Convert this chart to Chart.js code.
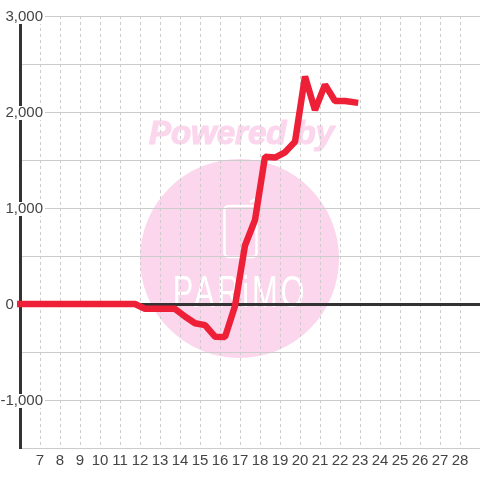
<!DOCTYPE html>
<html>
<head>
<meta charset="utf-8">
<style>
  html, body { margin: 0; padding: 0; background: #fff; }
  #wrap { width: 480px; height: 480px; }
</style>
<script src="https://cdn.jsdelivr.net/npm/chart.js@4"></script>
</head>
<body>
<div id="wrap"><canvas id="chart" width="480" height="480"></canvas></div>
<script>
const dayValues = [5.75, 6.25, 6.75, 7.25, 7.75, 8.25, 8.75, 9.25, 9.75, 10.25, 10.75, 11.25, 11.75,
  12.25, 12.75, 13.25, 13.75, 14.25, 14.75, 15.25, 15.75, 16.25, 16.75, 17.25, 17.75,
  18.25, 18.75, 19.25, 19.75, 20.25, 20.75, 21.25, 21.75, 22.25, 22.75];
const seriesValues = [0, 0, 0, 0, 0, 0, 0, 0, 0, 0, 0, 0, 0,
  -50, -50, -50, -50, -130, -200, -220, -340, -345, -20, 610, 875,
  1535, 1525, 1580, 1690, 2370, 2020, 2285, 2115, 2115, 2100];
const xTickLabels = [7, 8, 9, 10, 11, 12, 13, 14, 15, 16, 17, 18, 19, 20, 21, 22, 23, 24, 25, 26, 27, 28];
const yTickLabels = [-1000, 0, 1000, 2000, 3000];

// watermark sits under the grid
const watermark = {
  id: "watermark",
  beforeDraw(chart) {
    const ctx = chart.ctx;
    ctx.save();
    ctx.fillStyle = "#fff";
    ctx.fillRect(0, 0, 480, 480);
    ctx.fillStyle = "#fbd6ec";
    ctx.strokeStyle = "#fbd6ec";
    ctx.beginPath();
    ctx.arc(239.5, 258.5, 99.5, 0, Math.PI * 2);
    ctx.fill();
    ctx.font = "italic bold 33px 'Liberation Sans'";
    ctx.textAlign = "center";
    ctx.textBaseline = "middle";
    ctx.lineWidth = 1.2;
    ctx.fillText("Powered by", 241.5, 135);
    ctx.strokeText("Powered by", 241.5, 135);
    // phone icon
    ctx.strokeStyle = "#fff";
    ctx.lineWidth = 2.5;
    ctx.beginPath();
    ctx.roundRect(224.5, 206, 32, 51, 4);
    ctx.stroke();
    ctx.beginPath();
    ctx.moveTo(250, 202);
    ctx.lineTo(254, 200);
    ctx.lineTo(257, 205);
    ctx.stroke();
    // logo letters, squeezed and spaced to the width of the original
    ctx.fillStyle = "#fff";
    ctx.font = "44px 'Liberation Sans'";
    ctx.letterSpacing = "4px";
    ctx.textBaseline = "alphabetic";
    ctx.translate(240, 307);
    ctx.scale(0.7, 1);
    ctx.fillText("PARiMO", 0, 0);
    ctx.restore();
  }
};

new Chart(document.getElementById("chart"), {
  type: "line",
  data: {
    datasets: [{
      data: dayValues.map((d, i) => ({ x: d, y: seriesValues[i] })),
      borderColor: "#ee2037",
      borderWidth: 6.5,
      pointRadius: 0,
      tension: 0,
      clip: 3,
      borderJoinStyle: "bevel",
      borderCapStyle: "square"
    }]
  },
  options: {
    responsive: false,
    animation: false,
    devicePixelRatio: 1,
    layout: { padding: { top: 16, right: 0, bottom: 0, left: 0 } },
    plugins: { legend: { display: false }, tooltip: { enabled: false } },
    scales: {
      x: {
        type: "linear",
        min: 6,
        max: 29,
        afterFit(scale) { scale.height = 32; },
        afterBuildTicks(scale) { scale.ticks = xTickLabels.map(v => ({ value: v })); },
        grid: { color: "#cccccc", lineWidth: 1, drawTicks: false },
        border: { display: true, color: "#cccccc", width: 1, dash: [3, 3] },
        ticks: {
          color: "#444444",
          font: { family: "'Liberation Sans'", size: 15 },
          autoSkip: false,
          maxRotation: 0,
          padding: 4,
          callback: v => String(v)
        }
      },
      y: {
        min: -1500,
        max: 3000,
        afterFit(scale) { scale.width = 20; },
        afterBuildTicks(scale) {
          const list = [{ value: -1500 }];
          for (const v of yTickLabels) {
            list.push({ value: v });
            if (v < 3000) list.push({ value: v + 500 });
          }
          scale.ticks = list;
        },
        grid: {
          drawTicks: false,
          color: c => (c.tick && c.tick.value === 0 ? "#333333" : "#cccccc"),
          lineWidth: c => (c.tick && c.tick.value === 0 ? 3 : 1)
        },
        border: { color: "#333333", width: 3 },
        ticks: {
          z: 1,
          mirror: true,
          crossAlign: "far",
          color: "#444444",
          font: { family: "'Liberation Sans'", size: 15 },
          padding: -19.5,
          labelOffset: 1,
          autoSkip: false,
          showLabelBackdrop: c => c.tick.value !== 0 && yTickLabels.includes(c.tick.value),
          backdropColor: "#ffffff",
          backdropPadding: { top: -2, bottom: -2, left: 2, right: 2 },
          callback: v => {
            if (v === 0) return "0\u00a0\u00a0\u00a0\u00a0\u00a0\u00a0\u00a0";
            return yTickLabels.includes(v) ? v.toLocaleString("en-US") : "";
          }
        }
      }
    }
  },
  plugins: [watermark]
});
</script>
</body>
</html>
